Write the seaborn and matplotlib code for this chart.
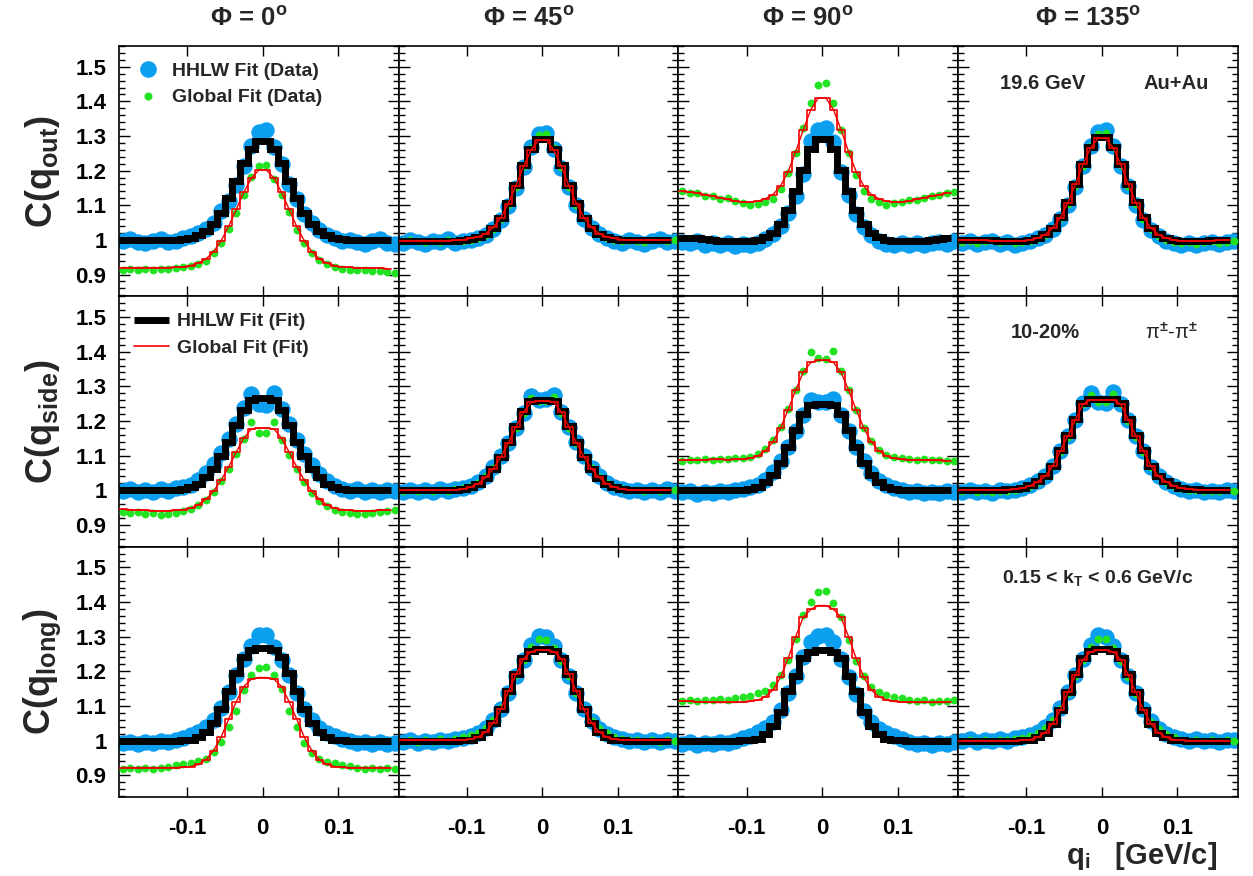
import numpy as np
import matplotlib
matplotlib.use("Agg")
import matplotlib.pyplot as plt
from matplotlib.ticker import MultipleLocator, FuncFormatter, NullLocator
from matplotlib.lines import Line2D
import seaborn as sns

sns.set_theme(style="ticks")
plt.rcParams["font.family"] = ["Liberation Sans", "DejaVu Sans"]
plt.rcParams["font.weight"] = "bold"
plt.rcParams["mathtext.fontset"] = "custom"
plt.rcParams["mathtext.rm"] = "Liberation Sans:bold"
plt.rcParams["mathtext.it"] = "Liberation Sans:bold"
plt.rcParams["mathtext.bf"] = "Liberation Sans:bold"

# ---------------- data ----------------
q_edges = np.round(np.linspace(-0.19, 0.18, 38), 3)      # bin edges (0.01 GeV/c)
q_centers = np.round((q_edges[:-1] + q_edges[1:]) / 2, 4)  # 37 data points
n_fit = 36                                                 # fit bins: -0.19 .. 0.17

projections = ["out", "side", "long"]
angles = ["0", "45", "90", "135"]

# ---- C(q_out) ----
out0_hhlw_fit = [1.000,1.000,1.000,1.000,1.000,1.000,1.000,1.001,1.002,1.006,1.013,1.025,1.046,1.078,1.121,1.171,1.221,1.263,1.287, 1.287,1.263,1.221,1.171,1.121,1.078,1.046,1.025,1.013,1.006,1.002,1.001,1.000,1.000,1.000,1.000,1.000]
out0_global_fit = [0.920,0.920,0.920,0.920,0.920,0.920,0.920,0.921,0.922,0.926,0.933,0.945,0.966,0.997,1.039,1.088,1.137,1.178,1.202, 1.202,1.178,1.137,1.088,1.039,0.997,0.966,0.945,0.933,0.926,0.922,0.921,0.919,0.919,0.918,0.918,0.917]
out0_hhlw_data = [0.998,1.003,0.995,0.990,0.996,1.002,0.993,0.998,1.004,1.010,1.020,1.032,1.050,1.082,1.112,1.158,1.213,1.272,1.313, 1.316,1.268,1.218,1.160,1.118,1.076,1.048,1.028,1.015,1.006,0.997,1.001,0.994,0.989,0.996,1.002,0.992,0.987]
out0_global_data = [0.912,0.915,0.913,0.916,0.914,0.917,0.915,0.918,0.921,0.924,0.930,0.940,0.962,0.990,1.030,1.078,1.130,1.182,1.214, 1.216,1.176,1.130,1.080,1.028,0.992,0.962,0.942,0.929,0.921,0.916,0.914,0.912,0.913,0.910,0.911,0.908,0.905]

out45_hhlw_fit = [0.997,0.997,0.997,0.997,0.997,0.997,0.997,0.998,1.000,1.003,1.008,1.017,1.035,1.064,1.106,1.159,1.215,1.263,1.291, 1.291,1.263,1.215,1.159,1.106,1.064,1.035,1.017,1.008,1.003,1.001,1.000,1.000,1.000,1.000,1.000,1.000]
out45_global_fit = [0.998,0.998,0.998,0.998,0.998,0.998,0.998,0.999,1.001,1.004,1.009,1.018,1.036,1.064,1.105,1.157,1.212,1.260,1.288, 1.288,1.260,1.212,1.157,1.105,1.064,1.036,1.018,1.009,1.004,1.001,1.000,1.000,1.000,1.000,1.000,1.000]
out45_hhlw_data = [0.992,1.001,0.995,0.988,0.997,0.993,1.002,0.990,0.996,1.000,1.006,1.014,1.030,1.058,1.098,1.150,1.210,1.268,1.306, 1.310,1.262,1.208,1.152,1.100,1.060,1.034,1.016,1.004,0.998,0.992,1.000,0.995,0.989,0.997,1.002,0.993,0.998]
out45_global_data = [0.997,0.999,0.996,0.994,0.998,0.995,1.000,0.996,0.998,1.001,1.005,1.015,1.032,1.060,1.100,1.153,1.212,1.266,1.302, 1.305,1.264,1.210,1.154,1.102,1.062,1.035,1.017,1.006,1.000,0.996,0.999,0.997,0.995,0.999,1.000,0.996,0.999]

out90_hhlw_fit = [1.006,1.005,1.004,1.002,1.000,0.998,0.997,0.996,0.996,0.997,1.000,1.008,1.020,1.046,1.086,1.140,1.201,1.262,1.292, 1.292,1.262,1.201,1.140,1.086,1.046,1.020,1.008,1.000,0.997,0.996,0.996,0.997,0.998,1.000,1.002,1.004]
out90_global_fit = [1.140,1.138,1.135,1.131,1.127,1.122,1.117,1.112,1.109,1.109,1.112,1.119,1.131,1.156,1.197,1.254,1.318,1.376,1.410, 1.410,1.376,1.318,1.254,1.197,1.156,1.131,1.119,1.112,1.109,1.109,1.112,1.117,1.122,1.127,1.131,1.135]
out90_hhlw_data = [0.995,0.990,0.998,0.986,0.992,0.984,0.990,0.982,0.988,0.985,0.992,1.002,1.018,1.040,1.078,1.128,1.190,1.285,1.318, 1.322,1.282,1.195,1.130,1.075,1.038,1.015,0.998,0.988,0.984,0.990,0.985,0.992,0.986,0.990,0.994,0.988,0.996]
out90_global_data = [1.142,1.134,1.136,1.128,1.126,1.118,1.120,1.112,1.106,1.100,1.104,1.110,1.118,1.146,1.192,1.252,1.322,1.396,1.448, 1.452,1.394,1.318,1.250,1.188,1.142,1.118,1.108,1.102,1.106,1.110,1.114,1.116,1.122,1.126,1.130,1.134,1.138]

out135_hhlw_fit = [1.001,1.001,1.000,1.000,0.999,0.998,0.997,0.997,0.998,1.001,1.006,1.016,1.035,1.065,1.108,1.161,1.219,1.268,1.296, 1.296,1.268,1.219,1.161,1.108,1.065,1.035,1.016,1.006,1.001,0.998,0.997,0.997,0.998,0.999,1.000,1.000]
out135_global_fit = [1.000,1.000,0.999,0.999,0.998,0.997,0.996,0.996,0.997,1.000,1.005,1.015,1.034,1.064,1.107,1.160,1.218,1.266,1.293, 1.293,1.266,1.218,1.160,1.107,1.064,1.034,1.015,1.005,1.000,0.997,0.996,0.996,0.997,0.998,0.999,1.000]
out135_hhlw_data = [0.990,0.996,0.987,0.993,0.998,0.989,0.994,0.985,0.992,0.996,1.004,1.014,1.032,1.060,1.100,1.152,1.212,1.272,1.312, 1.316,1.270,1.214,1.155,1.102,1.058,1.028,1.010,0.998,0.990,0.986,0.992,0.984,0.990,0.995,0.988,0.993,0.997]
out135_global_data = [0.995,0.998,0.992,0.996,1.000,0.993,0.997,0.990,0.994,0.998,1.004,1.015,1.034,1.062,1.103,1.155,1.214,1.270,1.306, 1.308,1.268,1.216,1.157,1.104,1.060,1.030,1.012,1.001,0.994,0.990,0.994,0.989,0.993,0.997,0.992,0.995,0.998]

# ---- C(q_side) ----
side0_hhlw_fit = [1.000,1.000,1.000,1.000,1.000,1.000,1.000,1.001,1.003,1.008,1.019,1.037,1.062,1.098,1.140,1.188,1.233,1.262,1.265, 1.265,1.262,1.233,1.188,1.140,1.098,1.062,1.037,1.019,1.008,1.003,1.001,1.000,1.000,1.000,1.000,1.000]
side0_global_fit = [0.945,0.944,0.943,0.942,0.941,0.940,0.941,0.942,0.944,0.948,0.958,0.974,0.997,1.029,1.067,1.110,1.150,1.177,1.179, 1.179,1.177,1.150,1.110,1.067,1.029,0.997,0.974,0.958,0.948,0.944,0.942,0.941,0.940,0.941,0.942,0.943]
side0_hhlw_data = [0.998,1.004,0.996,1.002,0.994,1.003,0.999,1.005,1.008,1.016,1.030,1.050,1.075,1.108,1.148,1.192,1.238,1.278,1.248, 1.246,1.280,1.236,1.190,1.145,1.105,1.072,1.046,1.026,1.012,1.004,0.998,1.003,0.996,1.001,0.995,1.002,0.998]
side0_global_data = [0.938,0.934,0.936,0.931,0.933,0.929,0.932,0.935,0.940,0.946,0.956,0.972,0.994,1.026,1.062,1.104,1.148,1.198,1.166, 1.164,1.196,1.146,1.102,1.060,1.024,0.992,0.970,0.954,0.944,0.937,0.933,0.930,0.932,0.935,0.938,0.941,0.943]

side45_hhlw_fit = [1.000,1.000,1.000,1.000,1.000,1.000,1.000,1.001,1.003,1.008,1.018,1.036,1.061,1.096,1.138,1.185,1.229,1.257,1.260, 1.260,1.257,1.229,1.185,1.138,1.096,1.061,1.036,1.018,1.008,1.003,1.001,1.000,1.000,1.000,1.000,1.000]
side45_global_fit = [1.000,1.000,1.000,1.000,1.000,1.000,1.000,1.001,1.004,1.009,1.019,1.037,1.062,1.096,1.137,1.183,1.226,1.254,1.258, 1.258,1.254,1.226,1.183,1.137,1.096,1.062,1.037,1.019,1.009,1.004,1.001,1.000,1.000,1.000,1.000,1.000]
side45_hhlw_data = [0.996,1.002,0.994,1.000,0.995,1.003,0.997,1.004,1.006,1.012,1.024,1.042,1.066,1.098,1.136,1.180,1.224,1.272,1.262, 1.264,1.276,1.226,1.182,1.138,1.098,1.064,1.040,1.022,1.010,1.004,0.998,1.002,0.995,1.001,0.996,1.003,0.999]
side45_global_data = [0.999,1.001,0.997,1.000,0.998,1.002,0.999,1.003,1.005,1.011,1.022,1.040,1.064,1.097,1.136,1.180,1.222,1.266,1.258, 1.259,1.268,1.224,1.181,1.137,1.097,1.063,1.039,1.021,1.010,1.004,1.000,1.001,0.998,1.000,0.998,1.001,1.000]

side90_hhlw_fit = [1.000,1.000,1.000,1.000,1.000,1.000,1.000,1.000,1.001,1.004,1.010,1.023,1.045,1.080,1.125,1.175,1.220,1.245,1.250, 1.250,1.245,1.220,1.175,1.125,1.080,1.045,1.023,1.010,1.004,1.001,1.000,1.000,1.000,1.000,1.000,1.000]
side90_global_fit = [1.086,1.087,1.088,1.088,1.089,1.089,1.088,1.089,1.089,1.092,1.099,1.114,1.140,1.180,1.232,1.289,1.341,1.369,1.375, 1.375,1.369,1.341,1.289,1.232,1.180,1.140,1.114,1.099,1.092,1.089,1.088,1.087,1.087,1.086,1.086,1.085]
side90_hhlw_data = [0.994,0.998,0.990,0.996,0.992,0.998,0.995,1.000,1.003,1.008,1.016,1.030,1.052,1.084,1.126,1.172,1.216,1.262,1.255, 1.256,1.264,1.216,1.172,1.126,1.084,1.050,1.028,1.014,1.005,1.000,0.995,0.998,0.992,0.996,0.993,0.997,0.994]
side90_global_data = [1.084,1.088,1.086,1.090,1.087,1.091,1.089,1.092,1.094,1.097,1.104,1.118,1.144,1.182,1.234,1.290,1.345,1.400,1.382, 1.380,1.402,1.343,1.288,1.232,1.180,1.142,1.116,1.103,1.096,1.093,1.090,1.088,1.090,1.086,1.088,1.085,1.083]

side135_hhlw_fit = [1.002,1.002,1.002,1.002,1.002,1.002,1.003,1.004,1.007,1.014,1.026,1.041,1.070,1.115,1.159,1.206,1.251,1.264,1.264, 1.264,1.264,1.251,1.206,1.159,1.115,1.070,1.041,1.026,1.014,1.007,1.004,1.003,1.002,1.002,1.002,1.002]
side135_global_fit = [1.001,1.001,1.001,1.001,1.001,1.001,1.002,1.003,1.006,1.013,1.025,1.040,1.069,1.113,1.157,1.204,1.248,1.261,1.261, 1.261,1.261,1.248,1.204,1.157,1.113,1.069,1.040,1.025,1.013,1.006,1.003,1.002,1.001,1.001,1.001,1.001]
side135_hhlw_data = [0.996,1.001,0.994,0.999,0.993,1.000,0.997,1.002,1.006,1.014,1.026,1.042,1.070,1.112,1.156,1.204,1.252,1.282,1.254, 1.252,1.284,1.250,1.202,1.156,1.112,1.068,1.040,1.024,1.012,1.004,0.998,1.001,0.995,0.999,0.996,1.000,0.997]
side135_global_data = [0.998,1.000,0.996,0.998,0.995,0.999,0.998,1.001,1.005,1.013,1.025,1.041,1.069,1.111,1.155,1.203,1.250,1.276,1.256, 1.254,1.278,1.249,1.201,1.155,1.111,1.067,1.040,1.024,1.012,1.005,1.000,1.001,0.997,0.999,0.997,1.000,0.998]

# ---- C(q_long) ----
long0_hhlw_fit = [1.000,1.000,1.000,1.000,1.000,1.000,1.000,1.000,1.001,1.003,1.009,1.024,1.051,1.091,1.144,1.195,1.240,1.262,1.267, 1.267,1.262,1.240,1.195,1.144,1.091,1.051,1.024,1.009,1.003,1.001,1.000,1.000,1.000,1.000,1.000,1.000]
long0_global_fit = [0.922,0.922,0.922,0.922,0.922,0.922,0.922,0.922,0.923,0.925,0.931,0.945,0.971,1.010,1.062,1.112,1.156,1.177,1.182, 1.182,1.177,1.156,1.112,1.062,1.010,0.971,0.945,0.931,0.925,0.923,0.922,0.922,0.922,0.922,0.922,0.922]
long0_hhlw_data = [0.992,0.996,0.990,0.997,0.993,0.998,0.995,1.002,1.008,1.016,1.024,1.038,1.060,1.095,1.140,1.190,1.236,1.272,1.304, 1.306,1.270,1.232,1.188,1.138,1.092,1.058,1.036,1.022,1.012,1.004,0.998,0.993,0.996,0.991,0.995,0.990,0.994]
long0_global_data = [0.918,0.921,0.917,0.920,0.919,0.922,0.924,0.928,0.932,0.936,0.940,0.948,0.966,0.995,1.040,1.085,1.146,1.190,1.210, 1.212,1.188,1.148,1.086,1.038,0.994,0.964,0.946,0.938,0.934,0.930,0.926,0.922,0.919,0.921,0.918,0.920,0.917]

long45_hhlw_fit = [1.000,1.000,1.000,1.000,1.000,1.000,1.000,1.000,1.001,1.003,1.009,1.024,1.050,1.090,1.143,1.193,1.239,1.260,1.265, 1.265,1.260,1.239,1.193,1.143,1.090,1.050,1.024,1.009,1.003,1.001,1.000,1.000,1.000,1.000,1.000,1.000]
long45_global_fit = [1.001,1.001,1.001,1.001,1.001,1.001,1.001,1.001,1.002,1.004,1.010,1.025,1.051,1.090,1.142,1.191,1.236,1.257,1.262, 1.262,1.257,1.236,1.191,1.142,1.090,1.051,1.025,1.010,1.004,1.002,1.001,1.001,1.001,1.001,1.001,1.001]
long45_hhlw_data = [0.996,1.002,0.994,1.000,0.997,1.003,0.998,1.004,1.008,1.014,1.022,1.036,1.058,1.092,1.138,1.186,1.234,1.275,1.302, 1.298,1.272,1.232,1.186,1.136,1.090,1.056,1.034,1.020,1.010,1.004,0.999,1.003,0.996,1.001,0.995,1.002,0.998]
long45_global_data = [0.999,1.003,0.997,1.001,0.999,1.004,1.000,1.005,1.009,1.015,1.023,1.037,1.060,1.094,1.140,1.188,1.233,1.270,1.292, 1.290,1.268,1.231,1.185,1.137,1.091,1.057,1.035,1.021,1.011,1.005,1.001,1.003,0.998,1.001,0.997,1.002,1.000]

long90_hhlw_fit = [1.000,1.000,1.000,1.000,1.000,1.000,1.000,1.000,1.001,1.002,1.005,1.018,1.042,1.082,1.142,1.187,1.237,1.257,1.262, 1.262,1.257,1.237,1.187,1.142,1.082,1.042,1.018,1.005,1.002,1.001,1.000,1.000,1.000,1.000,1.000,1.000]
long90_global_fit = [1.114,1.113,1.112,1.111,1.110,1.110,1.110,1.110,1.111,1.113,1.117,1.127,1.146,1.183,1.237,1.300,1.356,1.379,1.390, 1.390,1.379,1.356,1.300,1.237,1.183,1.146,1.127,1.117,1.113,1.111,1.110,1.110,1.110,1.110,1.110,1.110]
long90_hhlw_data = [0.990,0.996,0.988,0.994,0.991,0.997,0.993,1.000,1.006,1.014,1.024,1.036,1.054,1.088,1.136,1.186,1.240,1.286,1.302, 1.304,1.284,1.236,1.184,1.134,1.086,1.054,1.034,1.022,1.012,1.004,0.996,0.990,0.994,0.988,0.993,0.989,0.995]
long90_global_data = [1.115,1.118,1.113,1.117,1.116,1.119,1.118,1.122,1.126,1.130,1.136,1.143,1.160,1.190,1.232,1.292,1.362,1.400,1.430, 1.432,1.398,1.358,1.290,1.230,1.186,1.156,1.140,1.132,1.126,1.122,1.118,1.115,1.117,1.112,1.115,1.113,1.116]

long135_hhlw_fit = [1.000,1.000,1.000,1.000,1.000,1.000,1.000,1.000,1.001,1.003,1.009,1.023,1.049,1.089,1.141,1.191,1.237,1.259,1.264, 1.264,1.259,1.237,1.191,1.141,1.089,1.049,1.023,1.009,1.003,1.001,1.000,1.000,1.000,1.000,1.000,1.000]
long135_global_fit = [1.000,1.000,1.000,1.000,1.000,1.000,1.000,1.000,1.001,1.003,1.009,1.023,1.049,1.088,1.139,1.189,1.234,1.256,1.261, 1.261,1.256,1.234,1.189,1.139,1.088,1.049,1.023,1.009,1.003,1.001,1.000,1.000,1.000,1.000,1.000,1.000]
long135_hhlw_data = [0.998,1.004,0.996,1.002,0.999,1.005,1.000,1.006,1.010,1.016,1.024,1.038,1.060,1.094,1.140,1.188,1.236,1.276,1.304, 1.300,1.274,1.234,1.186,1.136,1.090,1.056,1.034,1.020,1.010,1.004,1.000,1.004,0.998,1.002,0.997,1.003,1.001]
long135_global_data = [1.000,1.002,0.998,1.001,1.000,1.003,1.001,1.004,1.008,1.014,1.022,1.036,1.058,1.092,1.138,1.186,1.232,1.270,1.294, 1.292,1.268,1.230,1.184,1.134,1.088,1.054,1.032,1.018,1.009,1.003,1.000,1.002,0.998,1.001,0.998,1.002,1.000]

panel_titles = ["\u03a6 = 0$^{\\mathbf{o}}$", "\u03a6 = 45$^{\\mathbf{o}}$",
                "\u03a6 = 90$^{\\mathbf{o}}$", "\u03a6 = 135$^{\\mathbf{o}}$"]
row_labels = ["C(q$_{\\mathbf{out}}$)", "C(q$_{\\mathbf{side}}$)", "C(q$_{\\mathbf{long}}$)"]
legend_data_labels = ["HHLW Fit (Data)", "Global Fit (Data)"]
legend_fit_labels = ["HHLW Fit (Fit)", "Global Fit (Fit)"]

# ---------------- style ----------------
C_BLUE = "#0c9ff0"
C_GREEN = "#22e322"
C_BLACK = "#000000"
C_RED = "#f20000"

fig, axes = plt.subplots(3, 4, figsize=(12.53, 8.76), dpi=100, sharex=True, sharey=True,
                         gridspec_kw=dict(wspace=0, hspace=0))
fig.subplots_adjust(left=0.095, right=0.988, top=0.9475, bottom=0.0902)

g = globals()
for r, proj in enumerate(projections):
    for c, ang in enumerate(angles):
        ax = axes[r, c]
        base = f"{proj}{ang}"
        hd = np.asarray(g[base + "_hhlw_data"])
        gd = np.asarray(g[base + "_global_data"])
        hf = np.asarray(g[base + "_hhlw_fit"])
        gf = np.asarray(g[base + "_global_fit"])
        for nm, arr, n in ((base + "_hhlw_data", hd, 37), (base + "_global_data", gd, 37),
                           (base + "_hhlw_fit", hf, n_fit), (base + "_global_fit", gf, n_fit)):
            assert len(arr) == n, (nm, len(arr))
        sns.scatterplot(x=q_centers, y=hd, ax=ax, s=140, color=C_BLUE, linewidth=0, zorder=2, legend=False)
        sns.scatterplot(x=q_centers, y=gd, ax=ax, s=32, color=C_GREEN, linewidth=0, zorder=3, legend=False)
        fx = q_edges[:n_fit + 1]
        sns.lineplot(x=fx, y=np.append(hf, hf[-1]), ax=ax, drawstyle="steps-post", color=C_BLACK,
                     lw=5.0, sort=False, estimator=None, errorbar=None, zorder=4,
                     solid_joinstyle="miter", solid_capstyle="butt", legend=False)
        sns.lineplot(x=fx, y=np.append(gf, gf[-1]), ax=ax, drawstyle="steps-post", color=C_RED,
                     lw=1.2, sort=False, estimator=None, errorbar=None, zorder=5, legend=False)
        sns.lineplot(x=q_centers[:n_fit], y=gf, ax=ax, color=C_RED, lw=1.0, sort=False,
                     estimator=None, errorbar=None, zorder=5, legend=False)

        ax.set_xlim(-0.19, 0.18)
        ax.set_ylim(0.837, 1.56)
        ax.xaxis.set_major_locator(MultipleLocator(0.1))
        ax.xaxis.set_minor_locator(NullLocator())
        ax.yaxis.set_major_locator(MultipleLocator(0.1))
        ax.yaxis.set_minor_locator(MultipleLocator(0.02))
        ax.xaxis.set_major_formatter(FuncFormatter(lambda v, p: f"{round(v, 3):g}"))
        ax.yaxis.set_major_formatter(FuncFormatter(lambda v, p: f"{round(v, 3):g}"))
        ax.tick_params(axis="both", which="both", direction="in", top=True, right=True,
                       width=1.0, colors="black")
        ax.tick_params(axis="y", which="major", length=8, pad=9, labelsize=16)
        ax.tick_params(axis="y", which="minor", length=4)
        ax.tick_params(axis="x", which="major", length=7, pad=15, labelsize=16)
        ax.set_xlabel("")
        ax.set_ylabel("")
        for sp in ax.spines.values():
            sp.set_linewidth(1.2)
            sp.set_color("black")

# legends
lh1 = [Line2D([], [], ls="none", marker="o", markersize=12, color=C_BLUE, markeredgewidth=0),
       Line2D([], [], ls="none", marker="o", markersize=5.8, color=C_GREEN, markeredgewidth=0)]
axes[0, 0].legend(lh1, legend_data_labels, loc="upper left", bbox_to_anchor=(-0.01, 1.0),
                  frameon=False, prop=dict(weight="bold", size=14), handlelength=1.6,
                  handletextpad=0.4, labelspacing=0.45, borderaxespad=0.45)
lh2 = [Line2D([], [], color=C_BLACK, lw=5.0, solid_capstyle="butt"),
       Line2D([], [], color=C_RED, lw=1.2)]
axes[1, 0].legend(lh2, legend_fit_labels, loc="upper left", bbox_to_anchor=(-0.005, 1.0),
                  frameon=False, prop=dict(weight="bold", size=14), handlelength=1.8,
                  handletextpad=0.4, labelspacing=0.45, borderaxespad=0.45)

# annotations
tkw = dict(transform=axes[0, 3].transAxes, ha="center", va="center", fontsize=14.5, fontweight="bold")
axes[0, 3].text(0.30, 0.85, "19.6 GeV", **tkw)
axes[0, 3].text(0.78, 0.85, "Au+Au", **tkw)
tkw["transform"] = axes[1, 3].transAxes
axes[1, 3].text(0.31, 0.855, "10-20%", **tkw)
axes[1, 3].text(0.76, 0.855, "\u03c0$^{\u00b1}$-\u03c0$^{\u00b1}$", transform=axes[1, 3].transAxes,
                ha="center", va="center", fontsize=14.5, fontweight="normal")
axes[2, 3].text(0.50, 0.873, "0.15 < k$_{\\mathbf{T}}$ < 0.6 GeV/c", transform=axes[2, 3].transAxes,
                ha="center", va="center", fontsize=14, fontweight="bold")

# titles and axis labels
for c, t in enumerate(panel_titles):
    pos = axes[0, c].get_position()
    fig.text((pos.x0 + pos.x1) / 2 - 0.008, 0.979, t, ha="center", va="center",
             fontsize=18.5, fontweight="bold")
for r, t in enumerate(row_labels):
    pos = axes[r, 0].get_position()
    fig.text(0.034, (pos.y0 + pos.y1) / 2, t, rotation=90, ha="center", va="center",
             fontsize=26, fontweight="bold")
fig.text(0.971, 0.023, "q$_{\\mathbf{i}}$   [GeV/c]", ha="right", va="center", fontsize=21, fontweight="bold")

fig.savefig("out.png", dpi=100)
